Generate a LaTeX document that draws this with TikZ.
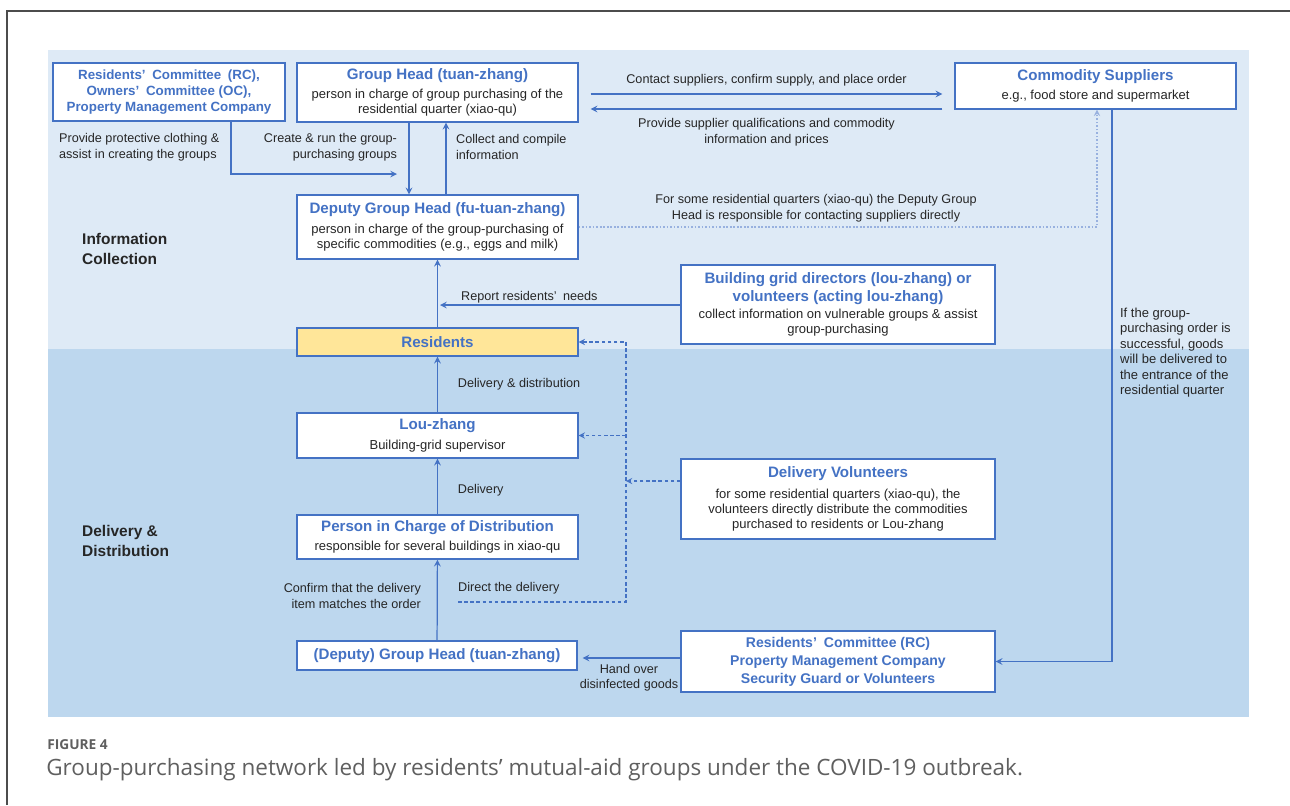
\documentclass[tikz,border=0pt]{standalone}
\usepackage{fontspec}
\setmainfont{Liberation Sans}
\newfontfamily\capfont{Open Sans}
\usepackage{tikz}

\definecolor{lineblue}{RGB}{68,114,196}
\definecolor{hdblue}{RGB}{68,114,196}
\definecolor{bgtop}{RGB}{222,234,246}
\definecolor{bgbot}{RGB}{189,215,238}
\definecolor{resyellow}{RGB}{255,230,153}
\definecolor{txt}{RGB}{38,38,38}
\definecolor{capgray}{RGB}{95,95,95}
\newcommand{\hd}[1]{{\fontsize{8.6}{10.5}\selectfont\bfseries\color{hdblue}#1}}

\begin{document}
\begin{tikzpicture}[
    x=0.02cm, y=-0.02cm,
    box/.style={draw=lineblue, line width=0.8pt, fill=white, align=center, inner sep=1pt, text=txt, font=\fontsize{7.4}{8.6}\selectfont},
    ttlbox/.style={box, text=hdblue, font=\fontsize{7.6}{9}\selectfont\bfseries},
    lbl/.style={inner sep=1pt, text=txt, font=\fontsize{7.2}{8.8}\selectfont},
    sec/.style={anchor=west, align=left, text=txt, font=\fontsize{8.8}{11}\selectfont\bfseries},
    arr/.style={->, >=stealth, draw=lineblue, line width=0.7pt},
    dsh/.style={->, >=stealth, draw=lineblue, line width=0.6pt, dash pattern=on 2pt off 1.5pt},
    dot/.style={->, >=stealth, draw=lineblue!55, line width=0.6pt, dash pattern=on 1pt off 1pt}
]
\useasboundingbox (0,0) rectangle (1290,805);

% frame and the two bands
\draw[black!70, line width=0.7pt] (7,805) -- (7,11) -- (1290,11);
\fill[bgtop] (48,50) rectangle (1249,349);
\fill[bgbot] (48,349) rectangle (1249,717);

\node[sec] (seci) at (76,249) {Information\\Collection};
\node[sec] (secd) at (76,541) {Delivery \&\\Distribution};

% Information collection
\node[ttlbox, minimum width=4.64cm, minimum height=1.16cm] (rc) at (169,92) {Residents’\enspace Committee\enspace (RC),\\Owners’\enspace Committee (OC),\\Property Management Company};
\node[box, minimum width=5.62cm, minimum height=1.18cm] (gh) at (437.5,92.5) {\hd{Group Head (tuan-zhang)}\\[2.5pt]person in charge of group purchasing of the\\residential quarter (xiao-qu)};
\node[box, minimum width=5.62cm, minimum height=0.92cm] (sup) at (1095.5,86) {\hd{Commodity Suppliers}\\[2.5pt]e.g., food store and supermarket};
\node[box, minimum width=5.62cm, minimum height=1.28cm] (dgh) at (437.5,227) {\hd{Deputy Group Head (fu-tuan-zhang)}\\[2.8pt]person in charge of the group-purchasing of\\specific commodities (e.g., eggs and milk)};
\node[box, minimum width=6.28cm, minimum height=1.58cm] (bgd) at (838,304.5) {\hd{Building grid directors (lou-zhang) or}\\[1.8pt]\hd{volunteers (acting lou-zhang)}\\[1pt]collect information on vulnerable groups \& assist\\group-purchasing};
\node[box, fill=resyellow, minimum width=5.62cm, minimum height=0.56cm] (res) at (437.5,342) {\hd{Residents}};

% Delivery and distribution
\node[box, minimum width=5.62cm, minimum height=0.9cm] (lou) at (437.5,435.5) {\hd{Lou-zhang}\\[2.5pt]Building-grid supervisor};
\node[box, minimum width=6.28cm, minimum height=1.6cm] (dv) at (838,499) {\hd{Delivery Volunteers}\\[3.5pt]for some residential quarters (xiao-qu), the\\volunteers directly distribute the commodities\\purchased to residents or Lou-zhang};
\node[box, minimum width=5.62cm, minimum height=0.88cm] (pic) at (437.5,537) {\hd{Person in Charge of Distribution}\\[2.5pt]responsible for several buildings in xiao-qu};
\node[box, minimum width=5.6cm, minimum height=0.58cm] (gh2) at (437,655.5) {\hd{(Deputy) Group Head (tuan-zhang)}};
\node[ttlbox, minimum width=6.28cm, minimum height=1.22cm, font=\fontsize{8}{10.2}\selectfont\bfseries] (rc2) at (838,661.5) {Residents’\enspace Committee (RC)\\Property Management Company\\Security Guard or Volunteers};

% top row
\draw[arr, shorten <=0.24cm, shorten >=0.24cm] (gh.east |- 0,94) -- node[lbl, above=3pt] (lbct) {Contact suppliers, confirm supply, and place order} (sup.west |- 0,94);
\draw[arr, shorten <=0.24cm, shorten >=0.24cm] (sup.west |- 0,109) -- node[lbl, below=4pt, align=center] (lbsq) {Provide supplier qualifications and commodity\\information and prices} (gh.east |- 0,109);

% committee to deputy
\coordinate (rcend) at (397,174);
\draw[arr] (rc.south -| 231,0) |- (rcend);
\node[lbl, anchor=west, align=left] (lbprot) at (57,147) {Provide protective clothing \&\\assist in creating the groups};

% group head and deputy
\draw[arr] (gh.south -| 409,0) -- (dgh.north -| 409,0);
\node[lbl, anchor=east, align=right] (lbcreate) at (399,147) {Create \& run the group-\\purchasing groups};
\draw[arr] (dgh.north -| 446,0) -- (gh.south -| 446,0);
\node[lbl, anchor=west, align=left] (lbcollect) at (454,147) {Collect and compile\\information};

% deputy direct to suppliers
\draw[dot] (dgh.east) -| (sup.south -| 1097,0);
\node[lbl, align=center] (lbdir) at (816,208) {For some residential quarters (xiao-qu) the Deputy Group\\Head is responsible for contacting suppliers directly};

% suppliers deliver to the gate
\draw[arr] (sup.south -| 1112,0) |- (rc2.east);
\node[lbl, anchor=north west, align=left, font=\fontsize{7.4}{8.8}\selectfont] (lbif) at (1118,306) {If the group-\\purchasing order is\\successful, goods\\will be delivered to\\the entrance of the\\residential quarter};

% report needs
\coordinate (rpt) at (440,305);
\draw[arr] (bgd.west |- rpt) -- (rpt);
\node[lbl, anchor=west] (lbrep) at (459,297) {Report residents’\enspace needs};
\draw[arr] (res) -- (dgh);

% delivery chain
\draw[arr] (lou) -- node[lbl, anchor=west, xshift=0.36cm] (lbdd) {Delivery \& distribution} (res);
\draw[arr] (pic) -- node[lbl, anchor=west, xshift=0.36cm, yshift=-0.07cm] (lbdel) {Delivery} (lou);
\draw[arr] (gh2) -- (pic);
\node[lbl, anchor=east, align=right] (lbconf) at (423,596) {Confirm that the delivery\\item matches the order};
\node[lbl, anchor=west] (lbdirect) at (456,588) {Direct the delivery};

% direct delivery (dashed)
\coordinate (dd0) at (458,602);
\coordinate (dd1) at (626,602);
\draw[dsh] (dd0) -- (dd1) |- (res.east);
\draw[dsh] (dd1 |- lou.east) -- (lou.east);
\draw[dsh] (dv.west |- 0,481) -- (dd1 |- 0,481);

% hand over goods
\draw[arr, shorten >=0.1cm] (rc2.west |- 0,658) -- node[lbl, below=2pt, align=center] (lbhand) {Hand over\\disinfected goods} (gh2.east |- 0,658);

% caption
\node[anchor=west, inner sep=0pt, text=capgray, font=\capfont\fontsize{7.8}{10}\selectfont\bfseries] (figno) at (47,745) {FIGURE 4};
\node[anchor=west, inner sep=0pt, text=capgray, font=\capfont\fontsize{12.8}{14}\selectfont] (cap) at (46,770) {Group-purchasing network led by residents’ mutual-aid groups under the COVID-19 outbreak.};
\end{tikzpicture}
\end{document}
